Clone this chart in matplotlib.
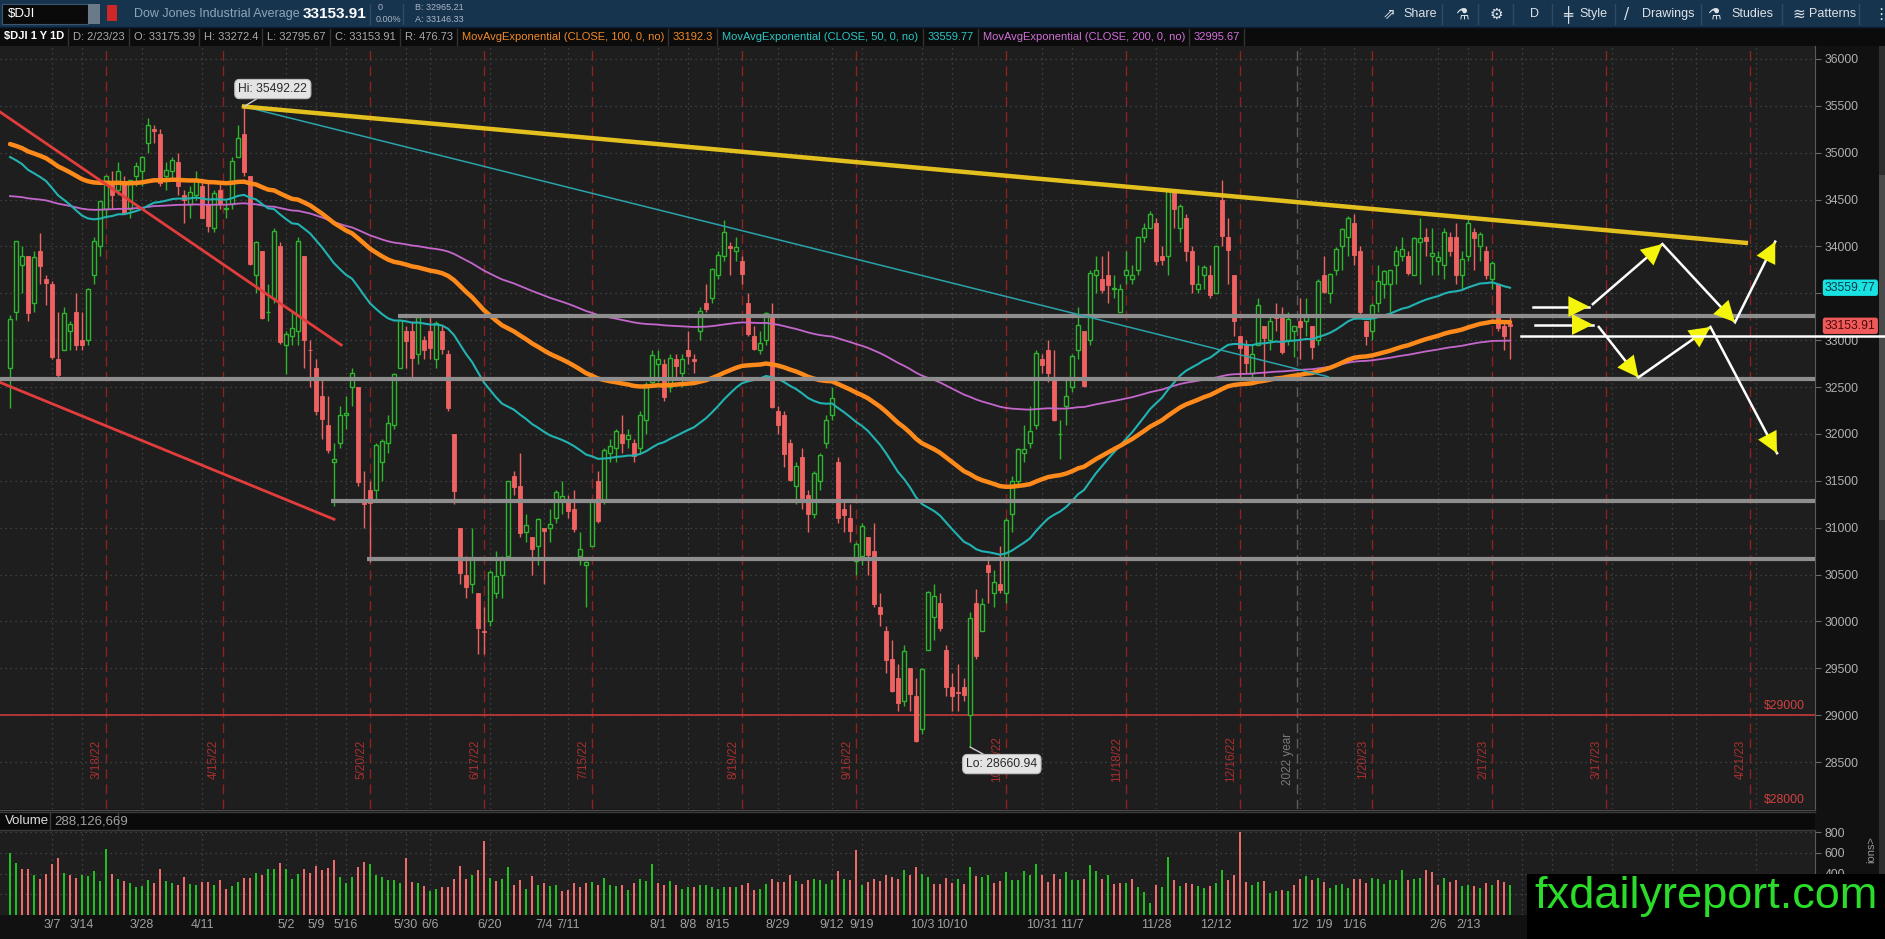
import matplotlib
matplotlib.use("Agg")
import matplotlib.pyplot as plt
from matplotlib.patches import Rectangle, FancyArrowPatch
from matplotlib.lines import Line2D
import numpy as np
import pandas as pd

W, H = 1885, 939
NARROW = ["Liberation Sans Narrow", "Liberation Sans", "DejaVu Sans"]

# ---- daily candles, $DJI 2/24/22 .. 2/23/23 (one row per month) ----
opens = [
    32700, 33300, 33800,
    33900, 33400, 33950, 33650, 33600, 32800, 32900, 33100, 33300, 33000, 33000, 33700, 34000, 34400, 34700, 34600, 34700, 34400, 34750, 34800, 35100, 35250, 35200,
    34750, 34800, 34900, 34550, 34450, 34550, 34650, 34450, 34200, 34600, 34400, 34450, 34950, 35200, 34750, 33700, 33950, 33300, 33450, 34000,
    32950, 33050, 33100, 33900, 32900, 32700, 32400, 32100, 31700, 31900, 32200, 32500, 32500, 31300, 31400, 31400, 31700, 31900, 32100, 32700, 33100,
    33100, 32850, 33000, 33100, 32800, 33100, 32850, 32000, 31000, 30500, 30400, 30300, 29900, 30000, 30300, 30500, 30700, 31550, 31450, 30950, 30900,
    30800, 31000, 31000, 31100, 31300, 31300, 31200, 30700, 30600, 30800, 31500, 31300, 31800, 31850, 32000, 31950, 31900, 31850, 32150, 32550,
    32750, 32750, 32500, 32800, 32650, 32900, 32800, 33100, 33400, 33450, 33700, 33900, 34000, 33950, 33850, 33400, 33050, 32900, 33000, 33250, 32250, 32200, 31900,
    31450, 31750, 31350, 31150, 31500, 31900, 32200, 31700, 31200, 31100, 30650, 30700, 30900, 30750, 30150, 29900, 29600, 29400, 29150, 29500, 29200,
    28850, 29700, 30050, 30200, 29700, 29300, 29250, 29300, 29000, 30200, 29900, 30600, 30300, 30400, 30300, 31150, 31500, 31800, 31900, 32100, 32800,
    32900, 32600, 32000, 32300, 32500, 32900, 33100, 33000, 33700, 33650, 33700, 33550, 33300, 33700, 33650, 33750, 34100, 34200, 34250, 33900, 33900,
    34600, 34200, 34300, 33950, 33550, 33700, 33700, 33500, 34500, 34100, 33700, 33050, 32950, 32650, 32950, 33150, 33000, 33250, 33250, 33000, 33100,
    33200, 33200, 33150, 33000, 33700, 33500, 33750, 34000, 34100, 34250, 33950, 33200, 33100, 33400, 33600, 33600, 33800, 33900, 33900, 33700,
    34050, 34100, 33900, 33850, 33800, 34100, 34100, 33700, 33900, 34150, 34000, 33950, 33650, 33600, 33150, 33175.39,
]
highs = [
    33270, 34060, 34000,
    33900, 33950, 34140, 33700, 33630, 33300, 33350, 33200, 33500, 33300, 33560, 34100, 34480, 34760, 34800, 34900, 34750, 34710, 34900, 34960, 35372, 35300, 35250,
    34900, 34950, 35000, 34600, 34650, 34800, 34700, 34700, 34600, 34700, 34500, 34950, 35300, 35492.22, 34750, 34060, 33950, 33600, 34200, 34050,
    33100, 33300, 34100, 33900, 33000, 32800, 32600, 32400, 31900, 32300, 32400, 32700, 32500, 31600, 31500, 31900, 31950, 32200, 32650, 33220, 33150,
    33200, 33250, 33050, 33250, 33200, 33150, 32900, 32000, 31000, 30700, 31000, 30300, 30150, 30550, 30750, 30700, 31500, 31600, 31800, 31150, 30900,
    31100, 31000, 31200, 31400, 31500, 31350, 31400, 30950, 30650, 31300, 31600, 31850, 31950, 32050, 32200, 32050, 31950, 32250, 32550, 32900,
    32900, 32800, 32850, 32850, 32850, 33100, 32850, 33350, 33600, 33770, 33950, 34280, 34050, 34100, 33900, 33500, 33150, 33100, 33300, 33400, 32300, 32250, 31950,
    31700, 31850, 31400, 31600, 31800, 32200, 32500, 31750, 31300, 31250, 30850, 31050, 30900, 31050, 30300, 29950, 29800, 29550, 29750, 29500, 29400,
    29500, 30320, 30400, 30300, 29750, 29450, 29550, 29400, 30100, 30350, 30250, 30700, 30550, 30800, 31100, 31550, 31850, 32100, 32300, 32900, 32850,
    33000, 32900, 32150, 32600, 32850, 33350, 33100, 33750, 33900, 33900, 33950, 33700, 33600, 33950, 33800, 34100, 34250, 34380, 34300, 34000, 34600,
    34600, 34450, 34350, 34000, 33800, 33800, 33800, 34010, 34712, 34300, 33700, 33050, 33000, 32950, 33450, 33150, 33250, 33400, 33350, 33300, 33150,
    33450, 33450, 33150, 33650, 33900, 33720, 33990, 34200, 34320, 34350, 34000, 33200, 33400, 33800, 33750, 33750, 34000, 34100, 33950, 34100,
    34300, 34200, 34200, 33950, 34200, 34150, 34250, 33950, 34300, 34200, 34150, 34000, 33850, 33600, 33200, 33272.4,
]
lows = [
    32272, 33220, 33500,
    33200, 33300, 33600, 33380, 32800, 32600, 32900, 32900, 32900, 32900, 32950, 33600, 33900, 34300, 34400, 34550, 34350, 34300, 34650, 34650, 35000, 35100, 34650,
    34600, 34700, 34550, 34250, 34300, 34500, 34300, 34150, 34150, 34400, 34300, 34400, 34950, 34750, 33800, 33500, 33230, 33200, 33400, 32960,
    32640, 32950, 32950, 32700, 32500, 32200, 31950, 31800, 31230, 31850, 32050, 32300, 31450, 31000, 30635, 31300, 31500, 31800, 32050, 32700, 32700,
    32600, 32750, 32800, 32800, 32700, 32850, 32250, 31250, 30400, 30250, 30300, 29650, 29650, 29950, 30250, 30250, 30700, 31350, 30900, 30850, 30500,
    30600, 30400, 30850, 31050, 31150, 31100, 30950, 30600, 30150, 30800, 31050, 31250, 31700, 31700, 31800, 31850, 31700, 31800, 32000, 32500,
    32550, 32350, 32450, 32600, 32500, 32750, 32650, 33000, 33300, 33400, 33650, 33850, 33700, 33850, 33600, 33050, 32900, 32850, 32950, 32280, 32000, 31650, 31500,
    31250, 31200, 30950, 31100, 31400, 31850, 32150, 31050, 30950, 30850, 30500, 30600, 30500, 30150, 29950, 29450, 29250, 29050, 29100, 29050, 28715,
    28800, 29700, 29800, 29900, 29200, 29050, 29050, 29150, 28660.94, 29600, 29900, 30200, 30150, 30300, 30200, 30950, 31450, 31700, 31850, 32050, 32650,
    32550, 32140, 31730, 32100, 32450, 32800, 32500, 32950, 33500, 33500, 33400, 33450, 33300, 33600, 33600, 33700, 34050, 34200, 33800, 33800, 33700,
    34200, 34050, 33850, 33500, 33500, 33550, 33450, 33500, 34000, 33600, 33050, 32600, 32650, 32580, 32950, 32580, 32900, 33100, 32850, 32950, 32820,
    32800, 33050, 32800, 32950, 33500, 33400, 33700, 33750, 33900, 33800, 33250, 32950, 33000, 33300, 33450, 33300, 33600, 33850, 33700, 33700,
    33600, 33900, 33700, 33700, 33650, 33900, 33600, 33550, 33850, 33750, 33850, 33650, 33550, 33100, 32900, 32795.67,
]
closes = [
    33224, 34059, 33893,
    33294, 33891, 33795, 33615, 32818, 32633, 33286, 33174, 32944, 32945, 33545, 34063, 34481, 34754, 34553, 34808, 34358, 34707, 34861, 34955, 35294, 35228, 34678,
    34818, 34922, 34641, 34497, 34584, 34721, 34308, 34220, 34565, 34451, 34412, 34912, 35161, 34793, 33811, 34049, 33240, 33302, 34160, 32977,
    33061, 33129, 34061, 32998, 32899, 32246, 32161, 31834, 31730, 32197, 32223, 32655, 31490, 31253, 31262, 31880, 31929, 32120, 32637, 33213, 32990,
    32813, 33248, 32900, 32916, 33180, 32910, 32272, 31393, 30516, 30365, 30668, 29927, 29889, 30530, 30483, 30677, 31501, 31439, 30947, 31029, 30775,
    31097, 30968, 31037, 31385, 31338, 31174, 30982, 30773, 30630, 31289, 31073, 31827, 31875, 32037, 31900, 31990, 31762, 32198, 32530, 32845,
    32798, 32397, 32813, 32727, 32803, 32833, 32775, 33310, 33337, 33761, 33913, 34152, 33981, 33999, 33707, 33064, 32910, 32970, 33292, 32283, 32099, 31791, 31510,
    31656, 31318, 31146, 31581, 31775, 32152, 32381, 31105, 31135, 30962, 30822, 31020, 30706, 30184, 30077, 29590, 29261, 29135, 29684, 29226, 28726,
    29490, 30316, 30274, 29927, 29297, 29203, 29240, 29211, 30039, 29635, 30186, 30524, 30424, 30334, 31083, 31500, 31837, 31839, 32034, 32862, 32733,
    32653, 32148, 32001, 32403, 32827, 33161, 32514, 33716, 33748, 33537, 33593, 33554, 33547, 33746, 33700, 34098, 34194, 34347, 33850, 33853, 34590,
    34395, 34430, 33948, 33597, 33598, 33781, 33477, 34006, 34108, 33966, 33203, 32920, 32757, 32850, 33377, 33027, 33204, 33242, 32876, 33221, 33147,
    33136, 33270, 32930, 33631, 33518, 33705, 33974, 34190, 34303, 33910, 33297, 33045, 33375, 33630, 33734, 33744, 33950, 33978, 33717, 34086,
    34093, 34054, 33926, 33891, 34156, 33949, 33699, 33869, 34246, 34089, 34128, 33697, 33827, 33130, 33045, 33153.91,
]
prev_close = 33131  # 2/23/22, colours the first volume bar

# volume, millions
volumes = [
    600, 500, 440, 440, 390, 350, 400, 490, 550, 410, 390, 360, 390, 380, 420, 330, 640, 400, 350, 330,
    310, 270, 280, 340, 310, 440, 330, 310, 290, 370, 300, 290, 320, 320, 290, 340, 250, 280, 320, 360,
    360, 410, 390, 440, 440, 500, 440, 350, 400, 440, 410, 470, 430, 450, 530, 370, 310, 370, 460, 510,
    490, 390, 370, 340, 340, 310, 550, 320, 310, 280, 230, 250, 270, 270, 350, 470, 350, 390, 430, 710,
    360, 330, 350, 460, 290, 340, 250, 380, 290, 310, 280, 290, 230, 240, 310, 270, 310, 320, 290, 360,
    290, 280, 290, 240, 310, 350, 330, 490, 310, 290, 330, 290, 250, 270, 270, 290, 290, 270, 250, 270,
    270, 270,
    290, 306, 242, 252, 300, 348, 316, 316, 387, 329, 300, 339, 348, 339, 300, 339, 426, 348, 339, 629,
    290, 316, 348, 329, 387, 368, 348, 435, 387, 465, 397, 368, 300, 300, 358, 306, 348, 300, 465, 377,
    368, 387, 310, 329, 416, 339, 339, 426, 387, 494, 387, 319, 397, 348, 416, 339, 339, 348, 484, 426,
    348, 387, 300, 310, 310, 348, 271, 223, 116, 290, 271, 555, 339, 281, 310, 300, 281, 261, 281, 310,
    435, 339, 387, 797, 319, 290, 319, 329, 213, 232, 242, 232, 290, 348, 377, 339, 358, 319, 261, 290,
    300, 261, 348, 348, 310, 358, 348, 300, 339, 339, 435, 339, 348, 358, 435, 416, 290, 358, 319, 339,
    281, 290, 281, 261, 310, 290, 339, 319, 288.126669,
]

# EMA values at the left edge of the chart
ema_seed = {50: 35025, 100: 35130, 200: 34550}

holidays = ["2022-04-15", "2022-05-30", "2022-06-20", "2022-07-04", "2022-09-05", "2022-11-24",
            "2022-12-26", "2023-01-02", "2023-01-16", "2023-02-20", "2023-04-07"]

week_labels = ["3/7", "3/14", "3/28", "4/11", "5/2", "5/9", "5/16", "5/30", "6/6", "6/20", "7/4",
               "7/11", "8/1", "8/8", "8/15", "8/29", "9/12", "9/19", "10/3", "10/10", "10/31",
               "11/7", "11/28", "12/12", "1/2", "1/9", "1/16", "2/6", "2/13"]
week_dates = ["2022-03-07", "2022-03-14", "2022-03-28", "2022-04-11", "2022-05-02", "2022-05-09",
              "2022-05-16", "2022-05-30", "2022-06-06", "2022-06-20", "2022-07-04", "2022-07-11",
              "2022-08-01", "2022-08-08", "2022-08-15", "2022-08-29", "2022-09-12", "2022-09-19",
              "2022-10-03", "2022-10-10", "2022-10-31", "2022-11-07", "2022-11-28", "2022-12-12",
              "2023-01-02", "2023-01-09", "2023-01-16", "2023-02-06", "2023-02-13"]
future_grid = ["2023-02-27", "2023-03-06", "2023-03-20", "2023-04-03", "2023-04-10", "2023-04-24"]

opex_dates = ["2022-03-18", "2022-04-15", "2022-05-20", "2022-06-17", "2022-07-15", "2022-08-19",
              "2022-09-16", "2022-10-21", "2022-11-18", "2022-12-16", "2023-01-20", "2023-02-17",
              "2023-03-17", "2023-04-21"]
opex_labels = ["3/18/22", "4/15/22", "5/20/22", "6/17/22", "7/15/22", "8/19/22", "9/16/22",
               "10/21/22", "11/18/22", "12/16/22", "1/20/23", "2/17/23", "3/17/23", "4/21/23"]

# drawings: (bar index, price)
yellow_line = [(39, 35492.22), (289.3, 34038)]
teal_line = [(39, 35492.22), (219.7, 32610)]
red_lines = [[(-1.7, 35436), (55.2, 32949)], [(-1.7, 32551), (54.0, 31090)]]
gray_levels = [33255, 32590, 31280, 30665]
gray_starts = [64.7, -1.7, 53.5, 59.5]
white_level = 33040
short_arrows = [[(253.8, 33359), (263.2, 33359)], [(254.2, 33167), (263.8, 33167)]]
up_path = [(263.8, 33385), (275.4, 34026), (287.5, 33192), (294.2, 34051)]
down_path = [(264.8, 33141), (271.4, 32603), (283.4, 33141), (294.5, 31795)]

opens, highs, lows, closes = map(np.array, (opens, highs, lows, closes))
volumes = np.array(volumes, dtype=float)

cal = pd.bdate_range("2022-02-24", "2023-05-31", freq="C", holidays=holidays)
n = len(closes)
dates = cal[:n]
xs = np.arange(n)


def pos(d):
    d = pd.Timestamp(d)
    i = cal.searchsorted(d)
    return float(i) if cal[i] == d else i - 0.5


def ema(vals, span, seed):
    a = 2.0 / (span + 1)
    out, prev = [], seed
    for v in vals:
        prev = a * v + (1 - a) * prev
        out.append(prev)
    return np.array(out)


BG = "#1e1e1e"
GREEN = "#2db52d"
RED = "#f06262"
GRID = "#4a4a4a"
GRAYT = "#a9a9a9"

fig = plt.figure(figsize=(W / 100, H / 100), dpi=100, facecolor="#111111")


def fx(px):
    return px / W


def fy(py):
    return 1 - py / H


def frect(x0, y0, x1, y1, color, z=0, ec="none"):
    fig.add_artist(Rectangle((fx(x0), fy(y1)), fx(x1 - x0), (y1 - y0) / H, transform=fig.transFigure,
                             fc=color, ec=ec, lw=0.8, zorder=z))


def fline(x0, y0, x1, y1, color, lw=1, z=1):
    fig.add_artist(Line2D([fx(x0), fx(x1)], [fy(y0), fy(y1)], transform=fig.transFigure,
                          color=color, lw=lw, zorder=z))


XMIN, XMAX = -1.67, 300.83
ax = fig.add_axes([0, fy(809), fx(1815), (809 - 46) / H])
vax = fig.add_axes([0, fy(915), fx(1815), (915 - 830) / H])

# ---- price panel ----
ax.set_facecolor(BG)
ax.set_xlim(XMIN, XMAX)
ax.set_ylim(28000, 36138)
ax.set_xticks([])
ticks = [p for p in range(28500, 36001, 500)]
ax.set_yticks(ticks)
ax.set_yticklabels([str(p) if p != 33500 else "" for p in ticks])
ax.yaxis.tick_right()
ax.tick_params(axis="y", colors="#6a6a6a", labelcolor="#b0b0b0", labelsize=8.7, length=4, pad=3)
for lbl in ax.get_yticklabels():
    lbl.set_family(NARROW)
for s in ("top", "left", "bottom"):
    ax.spines[s].set_visible(False)
ax.spines["right"].set_color("#5a5a5a")
ax.grid(axis="y", color=GRID, lw=0.9, ls=(0, (1, 3)), zorder=0)

week_x = [float(cal.searchsorted(pd.Timestamp(d))) for d in week_dates]
for xv in week_x + [float(cal.searchsorted(pd.Timestamp(d))) for d in future_grid]:
    ax.axvline(xv, color=GRID, lw=0.9, ls=(0, (1, 3)), zorder=0)
    vax.axvline(xv, color=GRID, lw=0.9, ls=(0, (1, 3)), zorder=0)

for d, lab in zip(opex_dates, opex_labels):
    xp = pos(d)
    ax.axvline(xp, color="#8e2222", lw=1, ls=(0, (7, 4)), zorder=1)
    ax.text(xp - 0.5, 28530, lab, rotation=90, ha="right", va="center", color="#a83030",
            fontsize=8.5, family=NARROW, zorder=1)
yx = pos("2023-01-01")
ax.axvline(yx, color="#5c5c5c", lw=1, ls=(0, (7, 4)), zorder=1)
ax.text(yx - 0.5, 28530, "2022 year", rotation=90, ha="right", va="center", color="#7a7a7a",
        fontsize=8.5, family=NARROW, zorder=1)

ax.axhline(29000, color="#c43a3a", lw=1.2, zorder=2)
ax.text(299.2, 29035, "$29000", ha="right", va="bottom", color="#d04040", fontsize=8.7, family=NARROW)
ax.text(299.2, 28035, "$28000", ha="right", va="bottom", color="#d04040", fontsize=8.7, family=NARROW)

# candles
up = closes >= opens
ax.vlines(xs, lows, highs, colors=np.where(up, GREEN, RED), lw=1, zorder=3)
ax.bar(xs[up], (closes - opens)[up], bottom=opens[up], width=0.64, facecolor=BG, edgecolor=GREEN,
       lw=1, zorder=4)
ax.bar(xs[~up], (opens - closes)[~up], bottom=closes[~up], width=0.64, facecolor=RED, edgecolor=RED,
       lw=0.6, zorder=4)

# moving averages
ax.plot(xs, ema(closes, 200, ema_seed[200]), color="#c466cc", lw=1.3, zorder=5)
ax.plot(xs, ema(closes, 50, ema_seed[50]), color="#22b2b2", lw=1.5, zorder=5)
ax.plot(xs, ema(closes, 100, ema_seed[100]), color="#ff8a1c", lw=3.2, zorder=6, solid_capstyle="round")

# drawings
for lvl, x0 in zip(gray_levels, gray_starts):
    ax.plot([x0, XMAX], [lvl, lvl], color="#8e8e8e", lw=3, zorder=7, solid_capstyle="butt")
for seg in red_lines:
    ax.plot(*zip(*seg), color="#e23c3c", lw=2, zorder=7)
ax.plot(*zip(*teal_line), color="#2aa3ab", lw=1.1, zorder=7)
ax.plot(*zip(*yellow_line), color="#e4c01e", lw=3.2, zorder=8)
ax.plot([251.8, 312.5], [white_level, white_level], color="white", lw=1.8, zorder=12, clip_on=False)


def arrow_path(pts):
    ax.plot(*zip(*pts), color="white", lw=1.8, zorder=9, solid_joinstyle="miter")
    for a, b in zip(pts[:-1], pts[1:]):
        ax.add_patch(FancyArrowPatch(a, b, arrowstyle="-|>,head_length=1.0,head_width=0.5",
                                     mutation_scale=15, fc="#f4f40c", ec="#f4f40c", lw=0,
                                     shrinkA=0, shrinkB=0, zorder=10))


for seg in short_arrows:
    arrow_path(seg)
arrow_path(up_path)
arrow_path(down_path)

hi_i = int(np.argmax(highs))
lo_i = int(np.argmin(lows))
bub = dict(boxstyle="round,pad=0.3,rounding_size=0.4", fc="#e4e4e4", ec="#bdbdbd", lw=0.8)
ax.annotate(f"Hi: {highs[hi_i]:.2f}", xy=(hi_i, highs[hi_i]), xytext=(hi_i + 4.8, 35679),
            ha="center", va="center", fontsize=8.7, family=NARROW, color="#2a2a2a", bbox=bub,
            arrowprops=dict(arrowstyle="-", color="#cfcfcf", lw=1, shrinkA=0, shrinkB=0), zorder=11)
ax.annotate(f"Lo: {lows[lo_i]:.2f}", xy=(lo_i, lows[lo_i]), xytext=(lo_i + 5.3, 28479),
            ha="center", va="center", fontsize=8.7, family=NARROW, color="#2a2a2a", bbox=bub,
            arrowprops=dict(arrowstyle="-", color="#cfcfcf", lw=1, shrinkA=0, shrinkB=0), zorder=11)

# price tags on the axis
tr = ax.get_yaxis_transform()
ax.text(1.0055, 33559.77, "33559.77", transform=tr, ha="left", va="center", fontsize=8.7,
        family=NARROW, color="#0b3a44", clip_on=False, zorder=13,
        bbox=dict(boxstyle="round,pad=0.18,rounding_size=0.2", fc="#18e2e2", ec="none"))
ax.text(1.0055, closes[-1], f"{closes[-1]:.2f}", transform=tr, ha="left", va="center", fontsize=8.7,
        family=NARROW, color="#4a0a0a", clip_on=False, zorder=13,
        bbox=dict(boxstyle="round,pad=0.18,rounding_size=0.2", fc="#f05a5a", ec="none"))

# ---- volume panel ----
vax.set_facecolor(BG)
vax.set_xlim(XMIN, XMAX)
vax.set_ylim(0, 820)
vax.set_xticks([])
vax.set_yticks([200, 400, 600, 800])
vax.set_yticklabels(["", "400", "600", "800"])
vax.yaxis.tick_right()
vax.tick_params(axis="y", colors="#6a6a6a", labelcolor="#b0b0b0", labelsize=8.7, length=4, pad=3)
for lbl in vax.get_yticklabels():
    lbl.set_family(NARROW)
for s in ("top", "left", "bottom"):
    vax.spines[s].set_visible(False)
vax.spines["right"].set_color("#5a5a5a")
vax.grid(axis="y", color=GRID, lw=0.9, ls=(0, (1, 3)), zorder=0)
vup = closes >= np.r_[prev_close, closes[:-1]]
vax.bar(xs, volumes, width=0.38, color=np.where(vup, "#1fc01f", "#f06a6a"), zorder=3)

for xv, lab in zip(week_x, week_labels):
    vax.text(xv, -0.12, lab, transform=vax.get_xaxis_transform(), ha="center", va="center",
             fontsize=9, family=NARROW, color="#a0a0a0", clip_on=False)

# ---- frame pieces ----
frect(0, 809, 1815, 830, "#0a0a0a", z=0)
fline(0, 809.5, 1815, 809.5, "#4d4d4d")
fline(0, 811.5, 1815, 811.5, "#3a3a3a")
fline(0, 829.5, 1815, 829.5, "#3a3a3a")
fline(50, 812, 50, 829, "#3a3a3a")
fline(118, 812, 118, 829, "#3a3a3a")
fig.text(fx(5), fy(821), "Volume", fontsize=9.5, family=NARROW, color="#dcdcdc", va="center")
fig.text(fx(54), fy(821), f"{volumes[-1] * 1e6:,.0f}", fontsize=9.5, family=NARROW,
         color="#a0a0a0", va="center")
frect(1879, 46, 1885, 874, "#2e2e2e", z=0)
frect(1879, 175, 1885, 520, "#4a4a4a", z=0)
fig.text(fx(1871), fy(850), "ions>", rotation=90, fontsize=8, family=NARROW, color="#9a9a9a",
         ha="center", va="center")

# top toolbar
frect(0, 0, W, 27, "#17344f", z=0)
frect(0, 27, W, 46, "#0b0b0b", z=0)
fline(0, 27, W, 27, "#0c1e30")
frect(2, 4, 88, 24, "#0a0a0a", z=1, ec="#3b5670")
frect(88, 4, 100, 24, "#6b7a88", z=1)
frect(107, 5, 117, 21, "#cf2626", z=1)
fig.text(fx(8), fy(14), "$DJI", fontsize=9.5, family=NARROW, color="white", va="center")
fig.text(fx(134), fy(14), "Dow Jones Industrial Average", fontsize=9, family=NARROW,
         color="#8ea5b9", va="center")
fig.text(fx(303), fy(14), f"{closes[-1]:.2f}", fontsize=11, family=NARROW, weight="bold",
         color="white", va="center")
fline(370, 4, 370, 24, "#2f4b66")
fig.text(fx(378), fy(8), "0", fontsize=6.5, family=NARROW, color="#aab6c4", va="center")
fig.text(fx(376), fy(20), "0.00%", fontsize=6.5, family=NARROW, color="#aab6c4", va="center")
fline(403, 4, 403, 24, "#2f4b66")
fig.text(fx(415), fy(8), "B: 32965.21", fontsize=6.5, family=NARROW, color="#aab6c4", va="center")
fig.text(fx(415), fy(20), "A: 33146.33", fontsize=6.5, family=NARROW, color="#aab6c4", va="center")

tb = [(1383, "⇗", 11), (1403, "Share", 9), (1455, "⚗", 11), (1490, "⚙", 11), (1530, "D", 9),
      (1563, "╪", 11), (1579, "Style", 9), (1624, "/", 11), (1642, "Drawings", 9),
      (1707, "⚗", 11), (1731, "Studies", 9), (1792, "≋", 11), (1809, "Patterns", 9),
      (1873, "⋮", 11)]
for px, s, sz in tb:
    fam = NARROW if s.isalpha() else ["DejaVu Sans"]
    fig.text(fx(px), fy(14), s, fontsize=sz, family=fam, color="#dde2e7", va="center")
for px in (1442, 1478, 1513, 1552, 1615, 1701, 1782, 1859):
    fline(px, 4, px, 24, "#2f4b66")

# second row: symbol, last bar and study values
renderer = fig.canvas.get_renderer()
row = [("$DJI 1 Y 1D", "white", "bold"),
       (f"D: {dates[-1].month}/{dates[-1].day}/{dates[-1].strftime('%y')}", GRAYT, "normal"),
       (f"O: {opens[-1]:.2f}", GRAYT, "normal"), (f"H: {highs[-1]:g}", GRAYT, "normal"),
       (f"L: {lows[-1]:.2f}", GRAYT, "normal"), (f"C: {closes[-1]:.2f}", GRAYT, "normal"),
       (f"R: {highs[-1] - lows[-1]:.2f}", GRAYT, "normal"),
       ("MovAvgExponential (CLOSE, 100, 0, no)", "#f08a2a", "normal"), ("33192.3", "#f08a2a", "normal"),
       ("MovAvgExponential (CLOSE, 50, 0, no)", "#2cc6c6", "normal"), ("33559.77", "#2cc6c6", "normal"),
       ("MovAvgExponential (CLOSE, 200, 0, no)", "#d070d8", "normal"), ("32995.67", "#d070d8", "normal")]
xcur = 4
for s, c, wgt in row:
    t = fig.text(fx(xcur), fy(36.5), s, fontsize=8, family=NARROW, color=c, weight=wgt, va="center")
    bb = t.get_window_extent(renderer)
    fline(bb.x1 + 4, 29, bb.x1 + 4, 45, "#333333")
    xcur = bb.x1 + 9

# watermark
frect(1527, 874, W, H, "#000000", z=20)
fig.text(fx(1706), fy(908), "fxdailyreport.com", fontsize=32.5, family=["Liberation Sans", "DejaVu Sans"],
         color="#2bdc2b", ha="center", va="baseline", zorder=21)

fig.savefig("out.png", dpi=100, facecolor=fig.get_facecolor())
